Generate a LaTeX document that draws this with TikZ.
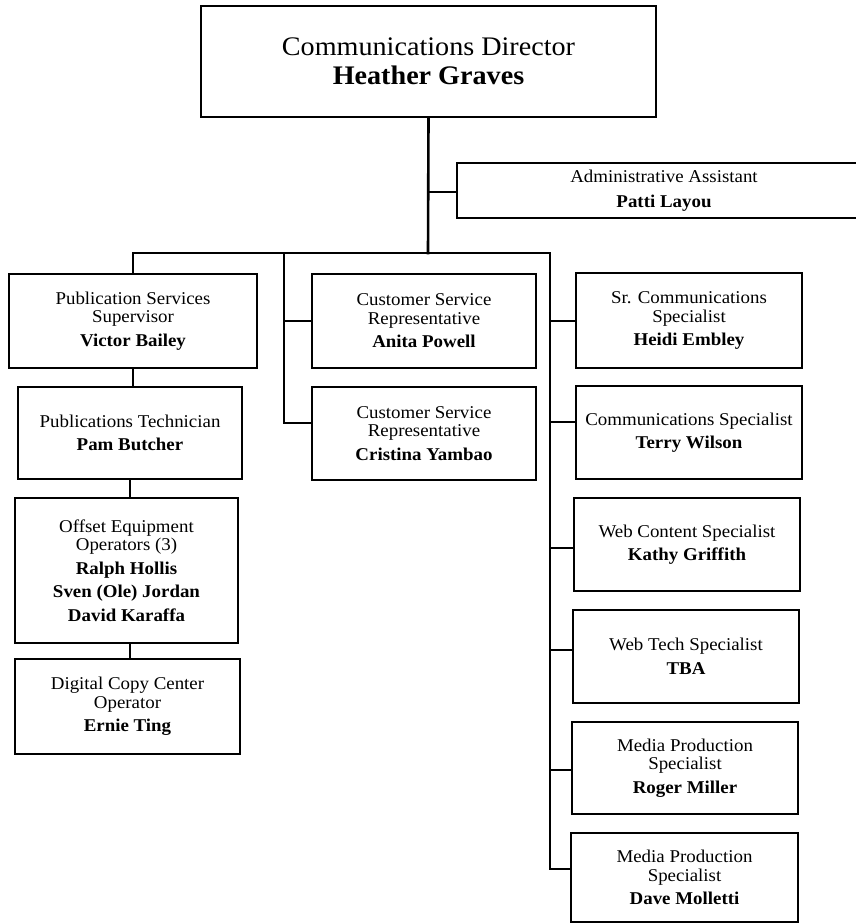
\documentclass[tikz,border=0pt]{standalone}
\usepackage{fontspec}
\setmainfont{Liberation Serif}[FakeStretch=1.05]
\begin{document}
\begin{tikzpicture}[x=1pt,y=-1pt,
  box/.style={draw, line width=2.6pt, inner sep=0pt, align=center, fill=white,
              font=\fontsize{18}{18.5}\selectfont},
  ln/.style={line width=2.6pt, line cap=rect}]
\fill[white] (0,0) rectangle (856,924);
\useasboundingbox (0,0) rectangle (856,924);
\begin{scope}
\clip (0,0) rectangle (856,924);
% boxes
\node[box, minimum width=455pt, minimum height=111pt, font=\fontsize{26.8}{28.5}\selectfont] (dir) at (428.5,61.5)
  {Communications Director\\\textbf{Heather Graves}};
\node[box, minimum width=414pt, minimum height=55pt] (adm) at (664,190.5)
  {Administrative Assistant\\[7pt]\textbf{Patti Layou}};
\node[box, minimum width=248pt, minimum height=94pt] (pss) at (133,321)
  {Publication Services\\Supervisor\\[5pt]\textbf{Victor Bailey}};
\node[box, minimum width=224pt, minimum height=92pt] (pt) at (130,433)
  {Publications Technician\\[5pt]\textbf{Pam Butcher}};
\node[box, minimum width=223pt, minimum height=145pt] (oe) at (126.5,570.5)
  {Offset Equipment\\Operators (3)\\[5pt]\textbf{Ralph Hollis}\\[5pt]\textbf{Sven (Ole) Jordan}\\[5pt]\textbf{David Karaffa}};
\node[box, minimum width=225pt, minimum height=95pt] (dc) at (127.5,706.5)
  {Digital Copy Center\\Operator\\[5pt]\textbf{Ernie Ting}};
\node[box, minimum width=224pt, minimum height=94pt] (csa) at (424,321)
  {Customer Service\\Representative\\[5pt]\textbf{Anita Powell}};
\node[box, minimum width=224pt, minimum height=93pt] (csc) at (424,433.5)
  {Customer Service\\Representative\\[5pt]\textbf{Cristina Yambao}};
\node[box, minimum width=226pt, minimum height=95pt] (scs) at (689,320.5)
  {Sr. Communications\\Specialist\\[5pt]\textbf{Heidi Embley}};
\node[box, minimum width=226pt, minimum height=93pt] (cs) at (689,432.5)
  {Communications Specialist\\[5pt]\textbf{Terry Wilson}};
\node[box, minimum width=226pt, minimum height=93pt] (wc) at (687,544.5)
  {Web Content Specialist\\[5pt]\textbf{Kathy Griffith}};
\node[box, minimum width=226pt, minimum height=93pt] (wt) at (686,656.5)
  {Web Tech Specialist\\[5pt]\textbf{TBA}};
\node[box, minimum width=226pt, minimum height=92pt] (mr) at (685,768)
  {Media Production\\Specialist\\[5pt]\textbf{Roger Miller}};
\node[box, minimum width=227pt, minimum height=89pt] (md) at (684.5,877.5)
  {Media Production\\Specialist\\[5pt]\textbf{Dave Molletti}};
% connectors
\coordinate (bus) at (428,253);
\coordinate (ja) at (428,192);
\coordinate (busL) at (133,253);
\coordinate (busR) at (550,253);
\coordinate (m0) at (284,253);
\coordinate (m1) at (284,321);
\coordinate (m2) at (284,423);
\coordinate (r1) at (550,321);
\coordinate (r2) at (550,422);
\coordinate (r3) at (550,548);
\coordinate (r4) at (550,650);
\coordinate (r5) at (550,770);
\coordinate (r6) at (550,869);
\draw[ln] (dir.south) -- (bus);
\draw[ln] (ja) -- (ja -| adm.west);
\draw[ln] (busL) -- (busR);
\draw[ln] (busL) -- (pss.north);
\draw[ln] (pss.south) -- (pss.south |- pt.north);
\draw[ln] (pt.south) -- (pt.south |- oe.north);
\draw[ln] (pt.south |- oe.south) -- (pt.south |- dc.north);
\draw[ln] (m0) -- (m2) -- (m2 -| csc.west);
\draw[ln] (m1) -- (m1 -| csa.west);
\draw[ln] (busR) -- (r6) -- (r6 -| md.west);
\draw[ln] (r1) -- (r1 -| scs.west);
\draw[ln] (r2) -- (r2 -| cs.west);
\draw[ln] (r3) -- (r3 -| wc.west);
\draw[ln] (r4) -- (r4 -| wt.west);
\draw[ln] (r5) -- (r5 -| mr.west);
\end{scope}
\end{tikzpicture}
\end{document}
